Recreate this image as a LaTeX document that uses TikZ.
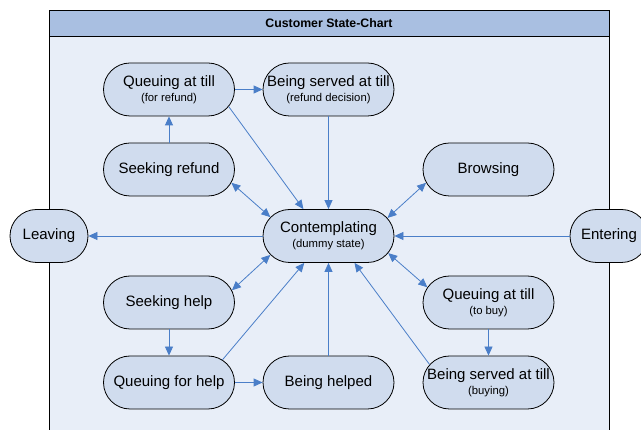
\documentclass[tikz,border=0pt]{standalone}
\usepackage{fontspec}
\setmainfont{Liberation Sans}
\usetikzlibrary{shapes.misc,arrows.meta}
\definecolor{hdr}{HTML}{A9BFE1}
\definecolor{bodyc}{HTML}{E8EEF8}
\definecolor{nodec}{HTML}{D0DCEE}
\definecolor{arr}{HTML}{4A7EC8}
\tikzset{
  state/.style={rounded rectangle, draw=black, line width=0.8pt, fill=nodec,
    minimum width=133pt, minimum height=53pt, inner sep=1pt, align=center,
    font=\fontsize{15}{15}\selectfont},
  endstate/.style={state, minimum width=80pt},
  conn/.style={draw=arr, line width=0.8pt, -{Triangle[length=9pt,width=8pt]}},
  dconn/.style={draw=arr, line width=0.8pt, {Triangle[length=9pt,width=8pt]}-{Triangle[length=9pt,width=8pt]}}
}
\newcommand{\subtxt}[1]{{\fontsize{11.3}{15}\selectfont #1}}
\begin{document}
\begin{tikzpicture}[x=1pt,y=-1pt]
\useasboundingbox (0,0) rectangle (641,430);
\fill[bodyc] (49,10) rectangle (609,445);
\fill[hdr] (49,10) rectangle (609,36);
\draw[line width=0.8pt] (49,445) -- (49,10) -- (609,10) -- (609,445);
\draw[line width=0.8pt] (49,36) -- (609,36);
\node[font=\bfseries\fontsize{12.3}{14}\selectfont] (title) at (329,23) {Customer State-Chart};

\node[state] (qr) at (169,89.5) {Queuing at till\\\subtxt{(for refund)}};
\node[state] (bsr) at (328.5,89.5) {Being served at till\\\subtxt{(refund decision)}};
\node[state] (sr) at (169,169.5) {Seeking refund};
\node[state] (br) at (488.5,169.5) {Browsing};
\node[state] (c) at (328.5,236) {Contemplating\\\subtxt{(dummy state)}};
\node[endstate] (lv) at (49,236) {Leaving};
\node[endstate] (en) at (609,236) {Entering};
\node[state] (sh) at (169,302.5) {Seeking help};
\node[state] (qtb) at (488.5,302.5) {Queuing at till\\\subtxt{(to buy)}};
\node[state] (qfh) at (169,382.5) {Queuing for help};
\node[state] (bh) at (328.5,382.5) {Being helped};
\node[state] (bsb) at (488.5,382.5) {Being served at till\\\subtxt{(buying)}};

\draw[conn] (qr.east) -- (bsr.west);
\draw[conn] (sr.north) -- (qr.south);
\draw[conn] (qr.-16) -- (c.133.4);
\draw[conn] (bsr.south) -- (c.north);
\draw[dconn] (sr.-12.8) -- (c.162.6);
\draw[dconn] (br.-168) -- (c.17.2);
\draw[conn] (en.west) -- (c.east);
\draw[conn] (c.west) -- (lv.east);
\draw[dconn] (c.-162.6) -- (sh.11);
\draw[conn] (sh.south) -- (qfh.north);
\draw[conn] (qfh.east) -- (bh.west);
\draw[conn] (qfh.23.6) -- (c.-132.4);
\draw[conn] (bh.north) -- (c.south);
\draw[conn] (bsb.163.9) -- (c.-46.5);
\draw[dconn] (c.-16.7) -- (qtb.166.3);
\draw[conn] (qtb.south) -- (bsb.north);
\end{tikzpicture}
\end{document}
